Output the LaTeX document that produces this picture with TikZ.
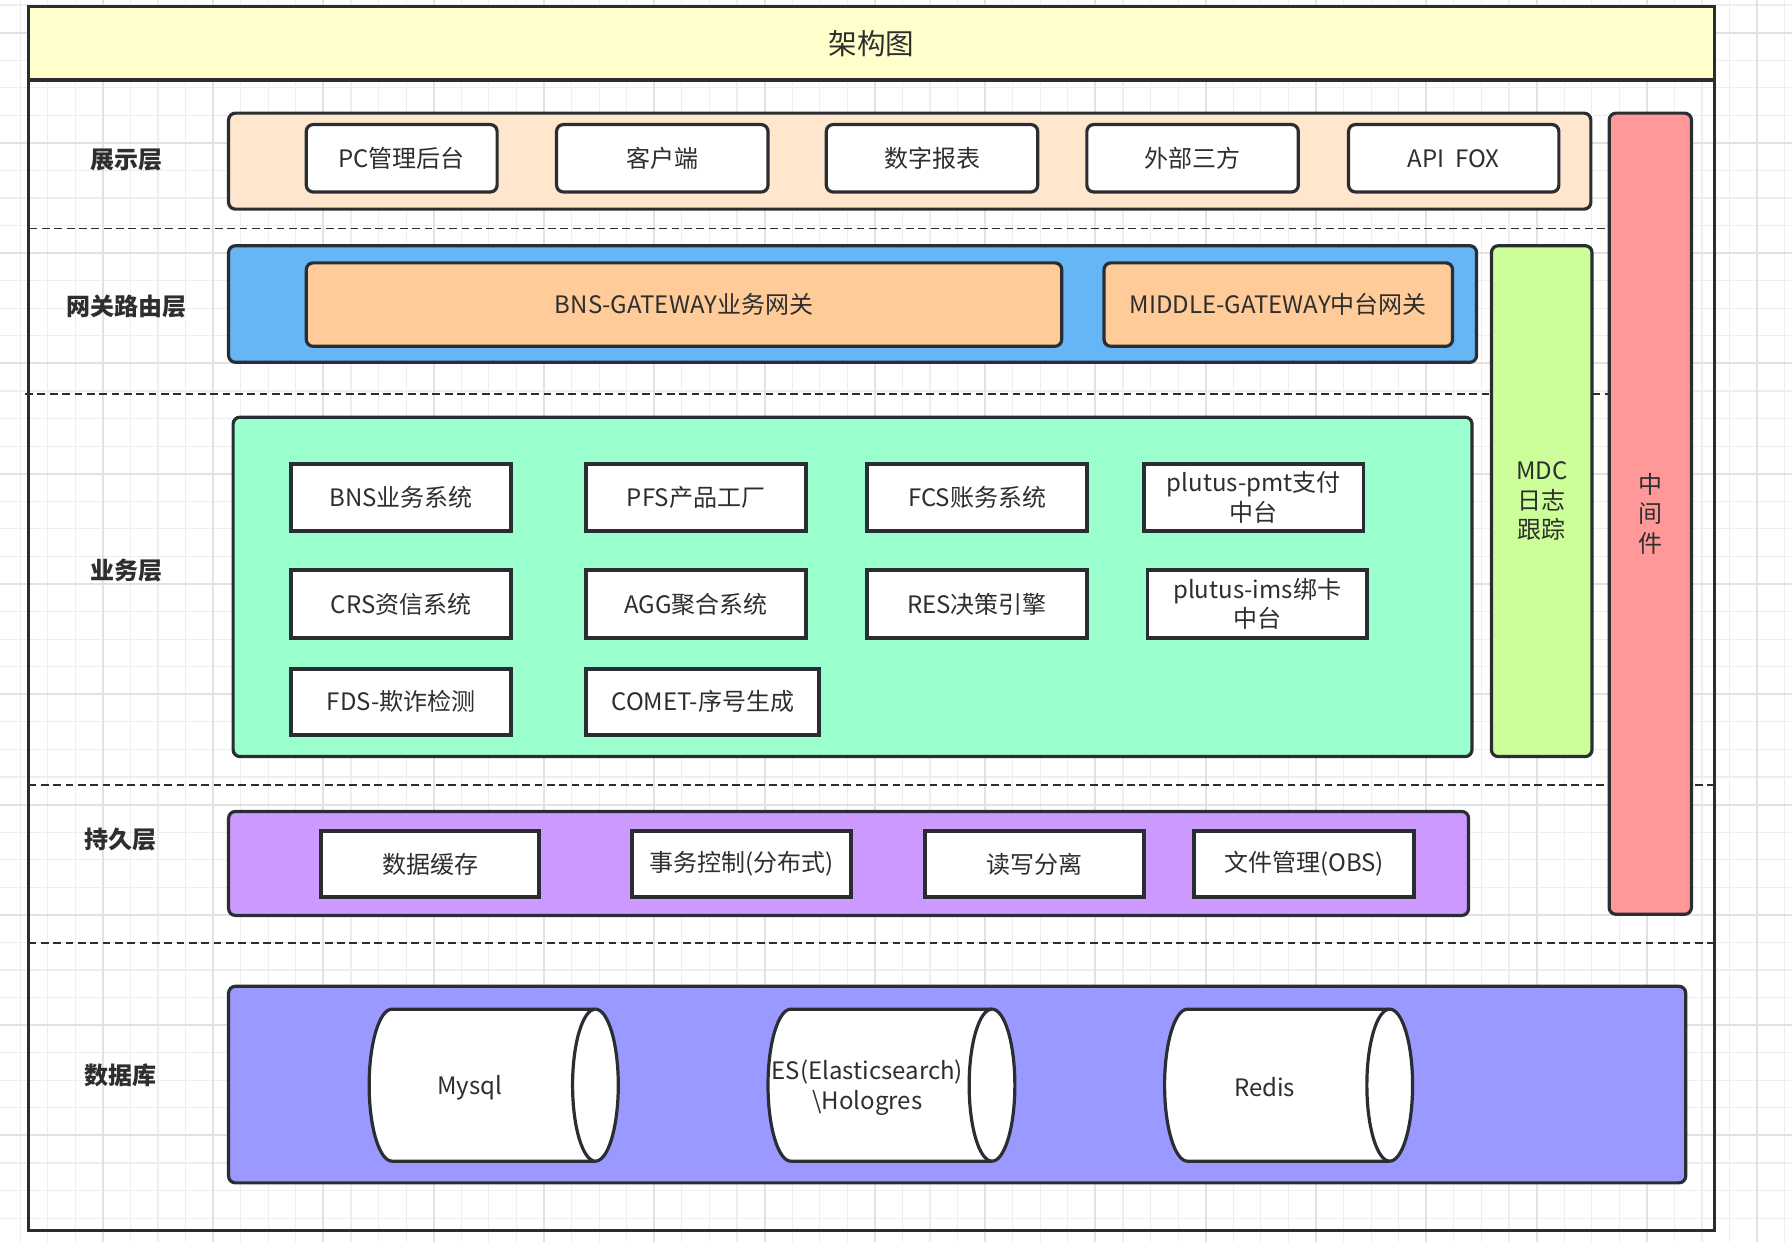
\documentclass[tikz,border=0pt]{standalone}
\usepackage{fontspec}
\setmainfont{Noto Sans CJK SC}
\definecolor{ln}{HTML}{2A2E33}
\definecolor{txtc}{HTML}{2E2E2E}
\definecolor{gridmin}{HTML}{EEEEEE}
\definecolor{gridmaj}{HTML}{E2E2E2}
\definecolor{titlec}{HTML}{FFFFCC}
\definecolor{presc}{HTML}{FFE6CC}
\definecolor{gatec}{HTML}{66B5F5}
\definecolor{gateinc}{HTML}{FFCC99}
\definecolor{mdcc}{HTML}{CCFF99}
\definecolor{midc}{HTML}{FF9999}
\definecolor{busc}{HTML}{99FFCC}
\definecolor{perc}{HTML}{CC99FF}
\definecolor{dbc}{HTML}{9999FF}
\newcommand\mkbox[7]{%
  \node[#2, minimum width={(#5-#3)*0.5pt}, minimum height={(#6-#4)*0.5pt}] (#1) at ({(#3+#5)/2},{(#4+#6)/2}) {#7};}
\newcommand\mkcyl[6]{%
  \pgfmathsetmacro\cyry{(#5-#3)/4}%
  \filldraw[cylline] ({#4-20},#3) arc[start angle=90,end angle=-90,x radius=10pt,y radius=\cyry pt] -- ({#2+20},#5) arc[start angle=270,end angle=90,x radius=10pt,y radius=\cyry pt] -- cycle;
  \draw[cylline] ({#4-20},#3) arc[start angle=90,end angle=270,x radius=10pt,y radius=\cyry pt];
  \node[txt] (#1) at ({(#2+#4)/2-21},{(#3+#5)/2+2}) {#6};}
\begin{document}
\begin{tikzpicture}[x=0.5pt,y=-0.5pt,
  txt/.style={text=txtc, font=\fontsize{10.5}{13}\selectfont, align=center, inner sep=0pt},
  cont/.style={draw=ln, line width=1.4pt, rounded corners=3pt},
  rbox/.style={cont, fill=white, txt},
  gbox/.style={cont, fill=gateinc, txt},
  sbox/.style={draw=ln, line width=1.7pt, fill=white, txt},
  lbl/.style={font=\fontsize{10.5}{13}\selectfont\bfseries, text=txtc, inner sep=0pt},
  sep/.style={draw=ln, line width=0.8pt, dash pattern=on 3.4pt off 2pt},
  cylline/.style={draw=ln, line width=1.4pt, fill=white},
  gmin/.style={draw=gridmin, line width=0.5pt},
  gmaj/.style={draw=gridmaj, line width=0.9pt}]
\useasboundingbox (0,0) rectangle (1568,1087);
\fill[white] (0,0) rectangle (1568,1087);
% grid
\foreach \i in {0,...,66}{
  \pgfmathsetmacro\gx{-6.5+24.125*\i}
  \draw[gmin] (\gx,0) -- (\gx,1087);}
\foreach \i in {0,...,45}{
  \pgfmathsetmacro\gy{4.375+24.125*\i}
  \draw[gmin] (0,\gy) -- (1568,\gy);}
\foreach \i in {0,...,16}{
  \pgfmathsetmacro\gx{-6.5+96.5*\i}
  \draw[gmaj] (\gx,0) -- (\gx,1087);}
\foreach \i in {0,...,11}{
  \pgfmathsetmacro\gy{28.5+96.5*\i}
  \draw[gmaj] (0,\gy) -- (1568,\gy);}
% separators
\draw[sep] (26,200) -- (1408,200);
\draw[sep] (22,345) -- (1408,345);
\draw[sep] (25,687) -- (1500,687);
\draw[sep] (25,825) -- (1500,825);
% frame and title
\draw[draw=ln, line width=1.4pt] (25,6) rectangle (1500,1077);
\mkbox{title}{draw=ln, line width=1.4pt, fill=titlec, txt, font=\fontsize{12.5}{15}\selectfont}{25}{6}{1500}{70}{架构图}
% layer labels
\node[lbl] (l1) at (111,140) {展示层};
\node[lbl] (l2) at (111,268) {网关路由层};
\node[lbl] (l3) at (111,499) {业务层};
\node[lbl] (l4) at (105,735) {持久层};
\node[lbl] (l5) at (105,941) {数据库};
% presentation
\mkbox{pres}{cont, fill=presc}{200}{99}{1392}{183}{}
\mkbox{p1}{rbox}{268}{109}{435}{168}{PC管理后台}
\mkbox{p2}{rbox}{487}{109}{672}{168}{客户端}
\mkbox{p3}{rbox}{723}{109}{908}{168}{数字报表}
\mkbox{p4}{rbox}{951}{109}{1136}{168}{外部三方}
\mkbox{p5}{rbox}{1180}{109}{1364}{168}{API\ \ FOX}
% gateway
\mkbox{gate}{cont, fill=gatec}{200}{215}{1292}{317}{}
\mkbox{g1}{gbox}{268}{230}{929}{303}{BNS-GATEWAY业务网关}
\mkbox{g2}{gbox}{966}{230}{1271}{303}{MIDDLE-GATEWAY中台网关}
% side columns
\mkbox{mdc}{cont, fill=mdcc, txt}{1305}{215}{1393}{662}{MDC\\日志\\跟踪}
\mkbox{mid}{cont, fill=midc, txt}{1408}{99}{1480}{800}{中\\间\\件}
% business
\mkbox{bus}{cont, fill=busc}{204}{365}{1288}{662}{}
\mkbox{b1}{sbox}{255}{406}{447}{465}{BNS业务系统}
\mkbox{b2}{sbox}{513}{406}{705}{465}{PFS产品工厂}
\mkbox{b3}{sbox}{759}{406}{951}{465}{FCS账务系统}
\mkbox{b4}{sbox}{1001}{406}{1193}{465}{plutus-pmt支付\\中台}
\mkbox{b5}{sbox}{255}{499}{447}{558}{CRS资信系统}
\mkbox{b6}{sbox}{513}{499}{705}{558}{AGG聚合系统}
\mkbox{b7}{sbox}{759}{499}{951}{558}{RES决策引擎}
\mkbox{b8}{sbox}{1004}{499}{1196}{558}{plutus-ims绑卡\\中台}
\mkbox{b9}{sbox}{255}{585}{447}{643}{FDS-欺诈检测}
\mkbox{b10}{sbox}{513}{585}{717}{643}{COMET-序号生成}
% persistence
\mkbox{per}{cont, fill=perc}{200}{710}{1285}{801}{}
\mkbox{s1}{sbox}{281}{727}{472}{785}{数据缓存}
\mkbox{s2}{sbox}{553}{727}{745}{785}{事务控制(分布式)}
\mkbox{s3}{sbox}{809}{727}{1001}{785}{读写分离}
\mkbox{s4}{sbox}{1045}{727}{1237}{785}{文件管理(OBS)}
% database
\mkbox{db}{cont, fill=dbc}{200}{863}{1475}{1035}{}
\mkcyl{mysql}{323}{883}{541}{1016}{Mysql}
\mkcyl{es}{672}{883}{888}{1016}{ES(Elasticsearch)\\\textbackslash Hologres}
\mkcyl{redis}{1019}{883}{1236}{1016}{Redis}
\end{tikzpicture}
\end{document}
